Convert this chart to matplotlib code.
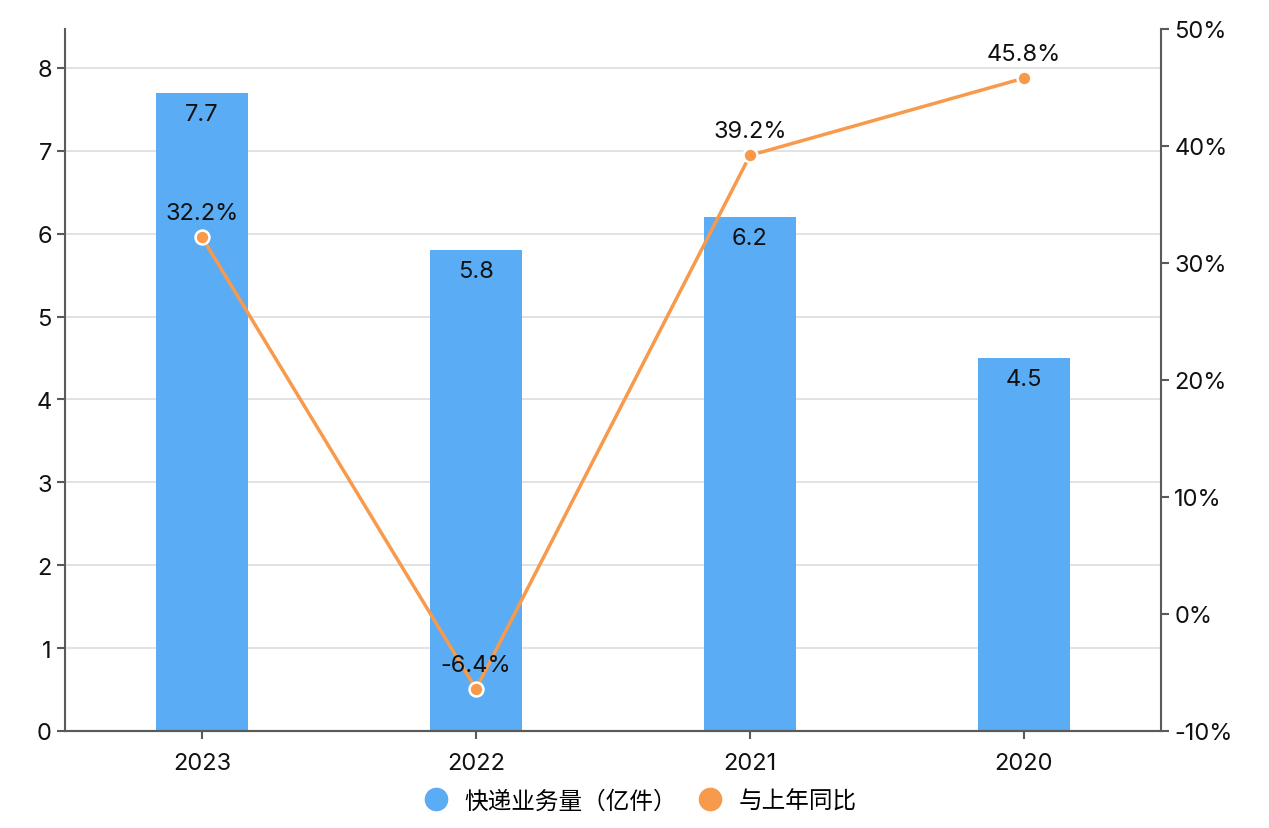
import matplotlib.pyplot as plt
from matplotlib.ticker import FuncFormatter

plt.rcParams['font.family'] = ['Inter', 'Noto Sans CJK SC', 'DejaVu Sans']

years = ['2023', '2022', '2021', '2020']
volume = [7.7, 5.8, 6.2, 4.5]          # 快递业务量（亿件）
growth = [32.2, -6.4, 39.2, 45.8]      # 与上年同比 (%)

bar_color = '#5aacf5'
line_color = '#f79a4b'
axis_color = '#5a5a5a'
fs = 17

fig = plt.figure(figsize=(12.69, 8.29), dpi=100)
ax = fig.add_axes([65 / 1269, 1 - 732 / 829, 1096 / 1269, 702 / 829])
ax2 = ax.twinx()

x = range(len(years))
ax.bar(x, volume, width=0.336, color=bar_color, zorder=2)
for i, v in enumerate(volume):
    ax.text(i, v - 0.12, f'{v}', ha='center', va='top', fontsize=fs, color='#111111', zorder=5)

ax.set_xlim(-0.5, 3.5)
ax.set_ylim(0, 8.47)
ax.set_yticks(range(0, 9))
ax.set_xticks(list(x))
ax.set_xticklabels(years)
ax.grid(axis='y', color='#dddddd', linewidth=1.2, zorder=0)
ax.set_axisbelow(True)

ax2.plot(x, growth, color=line_color, linewidth=2.5, zorder=3,
         marker='o', markersize=10, markerfacecolor=line_color,
         markeredgecolor='white', markeredgewidth=1.8)
for i, g in enumerate(growth):
    ax2.text(i, g + 1.1, f'{g}%', ha='center', va='bottom', fontsize=fs, color='#111111', zorder=5)
ax2.set_ylim(-10, 50)
ax2.set_yticks(range(-10, 51, 10))
ax2.yaxis.set_major_formatter(FuncFormatter(lambda v, p: f'{int(v)}%'))

for a in (ax, ax2):
    a.spines['top'].set_visible(False)
    for s in ('left', 'right', 'bottom'):
        a.spines[s].set_color(axis_color)
        a.spines[s].set_linewidth(1.5)
    a.tick_params(colors=axis_color, labelcolor='#111111', labelsize=fs,
                  length=6, width=1.5)
ax.spines['right'].set_visible(False)
ax2.spines['left'].set_visible(False)
ax.tick_params(axis='x', pad=9)

handles = [
    plt.Line2D([], [], marker='o', linestyle='', markersize=16, color=bar_color),
    plt.Line2D([], [], marker='o', linestyle='', markersize=16, color=line_color),
]
fig.legend(handles, ['快递业务量（亿件）', '与上年同比'], loc='center',
           bbox_to_anchor=(0.5, 1 - 802 / 829), ncol=2, frameon=False,
           fontsize=fs, handletextpad=0.2, columnspacing=0.4)

fig.savefig('out.png', dpi=100)
